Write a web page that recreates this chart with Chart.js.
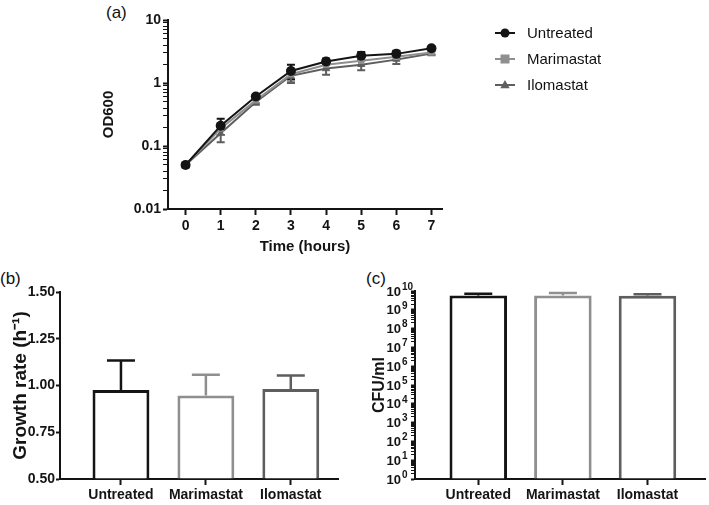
<!DOCTYPE html>
<html><head><meta charset="utf-8">
<script src="https://cdn.jsdelivr.net/npm/chart.js@4.4.1/dist/chart.umd.min.js"></script>
<style>
html,body{margin:0;padding:0;background:#fff;width:709px;height:505px;overflow:hidden;font-family:"Liberation Sans",Arial,sans-serif}
canvas{position:absolute}
.lbl{position:absolute;font-size:17px;color:#111;line-height:1}
</style></head><body>
<div class="lbl" style="left:106px;top:4px">(a)</div>
<div class="lbl" style="left:0px;top:270px">(b)</div>
<div class="lbl" style="left:366px;top:270px">(c)</div>
<canvas id="ca" width="709" height="258" style="left:0;top:0"></canvas>
<canvas id="cb" width="345" height="243" style="left:0;top:262px"></canvas>
<canvas id="cc" width="354" height="243" style="left:355px;top:262px"></canvas>
<script>
// ---- data ----
const hours = [0, 1, 2, 3, 4, 5, 6, 7];
const seriesNames = ['Untreated', 'Marimastat', 'Ilomastat'];
const odUntreated = [0.05, 0.21, 0.61, 1.55, 2.2, 2.7, 2.9, 3.55];
const odUntreatedSD = [0.004, 0.06, 0.05, 0.4, 0.25, 0.4, 0.35, 0.2];
const odMarimastat = [0.05, 0.19, 0.53, 1.38, 1.95, 2.25, 2.6, 3.05];
const odMarimastatSD = [0.004, 0.04, 0.05, 0.3, 0.35, 0.35, 0.3, 0.2];
const odIlomastat = [0.05, 0.16, 0.50, 1.30, 1.7, 1.95, 2.35, 2.95];
const odIlomastatSD = [0.004, 0.045, 0.05, 0.3, 0.35, 0.35, 0.35, 0.2];
const odTicks = [0.01, 0.1, 1, 10];
const odTickLabels = ['0.01', '0.1', '1', '10'];

const groups = ['Untreated', 'Marimastat', 'Ilomastat'];
const growthRate = [0.976, 0.947, 0.981];
const growthRateSD = [0.158, 0.110, 0.073];
const growthTicks = [0.5, 0.75, 1.0, 1.25, 1.5];
const growthTickLabels = ['0.50', '0.75', '1.00', '1.25', '1.50'];

const cfu = [5.7e9, 5.7e9, 5.6e9];
const cfuSD = [1.5e9, 2.1e9, 1.2e9];
const cfuExponents = [0, 1, 2, 3, 4, 5, 6, 7, 8, 9, 10];
const cfuTickBase = '10';

// ---- styles ----
const C_BLACK = '#141414', C_LIGHT = '#8f8f8f', C_DARK = '#5e5e5e';
const seriesColors = [C_BLACK, C_LIGHT, C_DARK];
const FONT = '"Liberation Sans", Arial, sans-serif';
const AX = '#141414';

function logTicks(minExp, maxExp) {
  const t = [];
  for (let d = minExp; d < maxExp; d++)
    for (let m = 1; m <= 9; m++) t.push({value: Number((m * Math.pow(10, d)).toPrecision(3))});
  t.push({value: Math.pow(10, maxExp)});
  return t;
}
function isPow10(v) { const l = Math.log10(v); return Math.abs(l - Math.round(l)) < 1e-9; }

const errorBars = {
  id: 'errorBars',
  draw(chart, opts) {
    const {ctx} = chart; const ys = chart.scales.y;
    chart.data.datasets.forEach((ds, di) => {
      if (!ds.errors) return;
      const meta = chart.getDatasetMeta(di);
      meta.data.forEach((el, i) => {
        const raw = ds.data[i]; const v = typeof raw === 'object' ? raw.y : raw;
        const e = ds.errors[i];
        const col = Array.isArray(ds.errorColor) ? ds.errorColor[i] : ds.errorColor;
        const top = ys.getPixelForValue(v + e);
        const bot = opts.upOnly ? el.y : ys.getPixelForValue(v - e);
        ctx.save();
        ctx.strokeStyle = col; ctx.lineWidth = opts.width;
        ctx.beginPath();
        ctx.moveTo(el.x, bot); ctx.lineTo(el.x, top);
        ctx.moveTo(el.x - opts.cap, top); ctx.lineTo(el.x + opts.cap, top);
        if (!opts.upOnly) { ctx.moveTo(el.x - opts.cap, bot); ctx.lineTo(el.x + opts.cap, bot); }
        ctx.stroke();
        ctx.restore();
      });
    });
  },
  beforeDatasetsDraw(chart, args, opts) { if (opts.before) this.draw(chart, opts); },
  afterDatasetsDraw(chart, args, opts) { if (!opts.before) this.draw(chart, opts); }
};

function drawMarker(ctx, style, x, y, r, color) {
  ctx.fillStyle = color;
  ctx.beginPath();
  if (style === 'circle') ctx.arc(x, y, r, 0, Math.PI * 2);
  else if (style === 'rect') ctx.rect(x - r, y - r, 2 * r, 2 * r);
  else { ctx.moveTo(x, y - r * 1.1); ctx.lineTo(x + r * 1.05, y + r * 0.7); ctx.lineTo(x - r * 1.05, y + r * 0.7); ctx.closePath(); }
  ctx.fill();
}

const lineLegend = {
  id: 'lineLegend',
  afterDraw(chart, args, opts) {
    const {ctx} = chart;
    chart.data.datasets.forEach((ds, i) => {
      const y = opts.y0 + i * opts.dy;
      ctx.save();
      ctx.strokeStyle = ds.borderColor; ctx.lineWidth = 2;
      ctx.beginPath(); ctx.moveTo(opts.x0, y); ctx.lineTo(opts.x0 + 20, y); ctx.stroke();
      drawMarker(ctx, ds.pointStyle, opts.x0 + 10, y, 4.5, ds.borderColor);
      ctx.fillStyle = '#111'; ctx.font = '15px ' + FONT; ctx.textBaseline = 'middle'; ctx.textAlign = 'left';
      ctx.fillText(ds.label, opts.x0 + 32, y + 1);
      ctx.restore();
    });
  }
};

// power-of-ten tick labels with a raised exponent
const powLabels = {
  id: 'powLabels',
  afterDraw(chart, args, opts) {
    const {ctx} = chart; const ys = chart.scales.y;
    ctx.save();
    ctx.fillStyle = AX; ctx.textBaseline = 'middle';
    cfuExponents.forEach((e) => {
      const y = ys.getPixelForValue(Math.pow(10, e));
      ctx.font = 'bold 13px ' + FONT; ctx.textAlign = 'right';
      ctx.fillText(cfuTickBase, opts.x, y + 1);
      ctx.font = 'bold 10px ' + FONT; ctx.textAlign = 'left';
      ctx.fillText(String(e), opts.x + 1, y - 4);
    });
    ctx.restore();
  }
};

const tickFont = (s) => ({family: FONT, size: s, weight: 'bold'});
const titleFont = (s) => ({family: FONT, size: s, weight: 'bold'});

// ---- panel (a) ----
const odSeries = [[odUntreated, odUntreatedSD], [odMarimastat, odMarimastatSD], [odIlomastat, odIlomastatSD]];
const pStyles = ['circle', 'rect', 'triangle'];
new Chart(document.getElementById('ca'), {
  type: 'line',
  data: {
    datasets: odSeries.map((s, k) => ({
      label: seriesNames[k],
      data: hours.map((h, i) => ({x: h, y: s[0][i]})),
      errors: s[1], errorColor: seriesColors[k],
      borderColor: seriesColors[k], backgroundColor: seriesColors[k],
      borderWidth: 2, pointStyle: pStyles[k], pointRadius: k === 0 ? 5 : 4.5,
      pointBorderWidth: 0, tension: 0
    }))
  },
  options: {
    responsive: false, animation: false, devicePixelRatio: 1,
    layout: {padding: {left: 100, right: 267, top: 20, bottom: 0}},
    plugins: {legend: {display: false}, tooltip: {enabled: false},
      errorBars: {before: true, upOnly: false, cap: 4, width: 2},
      lineLegend: {x0: 495, y0: 33, dy: 26}},
    scales: {
      x: {type: 'linear', min: -0.5, max: 7.3,
        afterBuildTicks: (s) => { s.ticks = hours.map(v => ({value: v})); },
        afterFit: (s) => { s.height = 49; },
        ticks: {font: tickFont(14), color: AX, padding: 3, autoSkip: false},
        grid: {drawOnChartArea: false, tickLength: 6, tickColor: AX, tickWidth: 2},
        border: {color: AX, width: 2},
        title: {display: true, text: 'Time (hours)', font: titleFont(15), color: AX, padding: {top: 2, bottom: 2}}},
      y: {type: 'logarithmic', min: 0.01, max: 10,
        afterBuildTicks: (s) => { s.ticks = logTicks(-2, 1); },
        afterFit: (s) => { s.width = 68; },
        ticks: {font: tickFont(14), color: AX, padding: 2, autoSkip: false,
          callback: (v) => { const k = odTicks.findIndex(t => Math.abs(t - v) < 1e-9); return k >= 0 ? odTickLabels[k] : ''; }},
        grid: {drawOnChartArea: false, tickLength: 5, tickColor: AX,
          tickWidth: (c) => (c.tick && isPow10(c.tick.value)) ? 2 : 1},
        border: {color: AX, width: 2},
        title: {display: true, text: 'OD600', font: titleFont(15), color: AX, padding: {top: 0, bottom: 4}}}
    }
  },
  plugins: [errorBars, lineLegend]
});

// ---- panel (b) ----
new Chart(document.getElementById('cb'), {
  type: 'bar',
  data: {
    datasets: [{
      data: groups.map((g, i) => ({x: i, y: growthRate[i]})),
      errors: growthRateSD, errorColor: seriesColors,
      backgroundColor: '#fff', borderColor: seriesColors, borderWidth: 3, borderSkipped: 'start',
      barPercentage: 0.67, categoryPercentage: 1, base: 0.5
    }]
  },
  options: {
    responsive: false, animation: false, devicePixelRatio: 1,
    layout: {padding: {left: 0, right: 7, top: 30, bottom: 0}},
    plugins: {legend: {display: false}, tooltip: {enabled: false},
      errorBars: {before: false, upOnly: true, cap: 14, width: 2.5}},
    scales: {
      x: {type: 'linear', min: -0.718, max: 2.556, offset: false,
        afterBuildTicks: (s) => { s.ticks = groups.map((g, i) => ({value: i})); },
        afterFit: (s) => { s.height = 26; },
        ticks: {font: tickFont(14), color: AX, padding: 2, autoSkip: false, maxRotation: 0,
          callback: (v) => groups[v] ?? ''},
        grid: {drawOnChartArea: false, tickLength: 6, tickColor: AX, tickWidth: 2, offset: false},
        border: {color: AX, width: 2}},
      y: {min: 0.5, max: 1.5,
        afterBuildTicks: (s) => { s.ticks = growthTicks.map(v => ({value: v})); },
        afterFit: (s) => { s.width = 60; },
        ticks: {font: tickFont(14), color: AX, padding: 1,
          callback: (v) => { const k = growthTicks.findIndex(t => Math.abs(t - v) < 1e-9); return k >= 0 ? growthTickLabels[k] : ''; }},
        grid: {drawOnChartArea: false, tickLength: 4, tickColor: AX, tickWidth: 2},
        border: {color: AX, width: 2},
        title: {display: true, text: 'Growth rate (h⁻¹)', font: titleFont(19), color: AX, padding: {top: 9, bottom: 0}}}
    }
  },
  plugins: [errorBars]
});

// ---- panel (c) ----
new Chart(document.getElementById('cc'), {
  type: 'bar',
  data: {
    datasets: [{
      data: groups.map((g, i) => ({x: i, y: cfu[i]})),
      errors: cfuSD, errorColor: seriesColors,
      backgroundColor: '#fff', borderColor: seriesColors, borderWidth: 3, borderSkipped: 'start',
      barPercentage: 0.68, categoryPercentage: 1, base: 1
    }]
  },
  options: {
    responsive: false, animation: false, devicePixelRatio: 1,
    layout: {padding: {left: 0, right: 4, top: 29, bottom: 0}},
    plugins: {legend: {display: false}, tooltip: {enabled: false},
      errorBars: {before: false, upOnly: true, cap: 14, width: 2.5},
      powLabels: {x: 46}},
    scales: {
      x: {type: 'linear', min: -0.748, max: 2.68, offset: false,
        afterBuildTicks: (s) => { s.ticks = groups.map((g, i) => ({value: i})); },
        afterFit: (s) => { s.height = 26; },
        ticks: {font: tickFont(14), color: AX, padding: 2, autoSkip: false, maxRotation: 0,
          callback: (v) => groups[v] ?? ''},
        grid: {drawOnChartArea: false, tickLength: 6, tickColor: AX, tickWidth: 2, offset: false},
        border: {color: AX, width: 2}},
      y: {type: 'logarithmic', min: 1, max: 1e10,
        afterBuildTicks: (s) => { s.ticks = logTicks(0, 10); },
        afterFit: (s) => { s.width = 60; },
        ticks: {display: true, font: tickFont(13), color: 'rgba(0,0,0,0)', padding: 2, autoSkip: false,
          callback: () => ''},
        grid: {drawOnChartArea: false, tickLength: 4, tickColor: AX,
          tickWidth: (c) => (c.tick && isPow10(c.tick.value)) ? 2 : 1},
        border: {color: AX, width: 2},
        title: {display: true, text: 'CFU/ml', font: titleFont(16), color: AX, padding: {top: 15, bottom: 0}}}
    }
  },
  plugins: [errorBars, powLabels]
});
</script>
</body></html>
